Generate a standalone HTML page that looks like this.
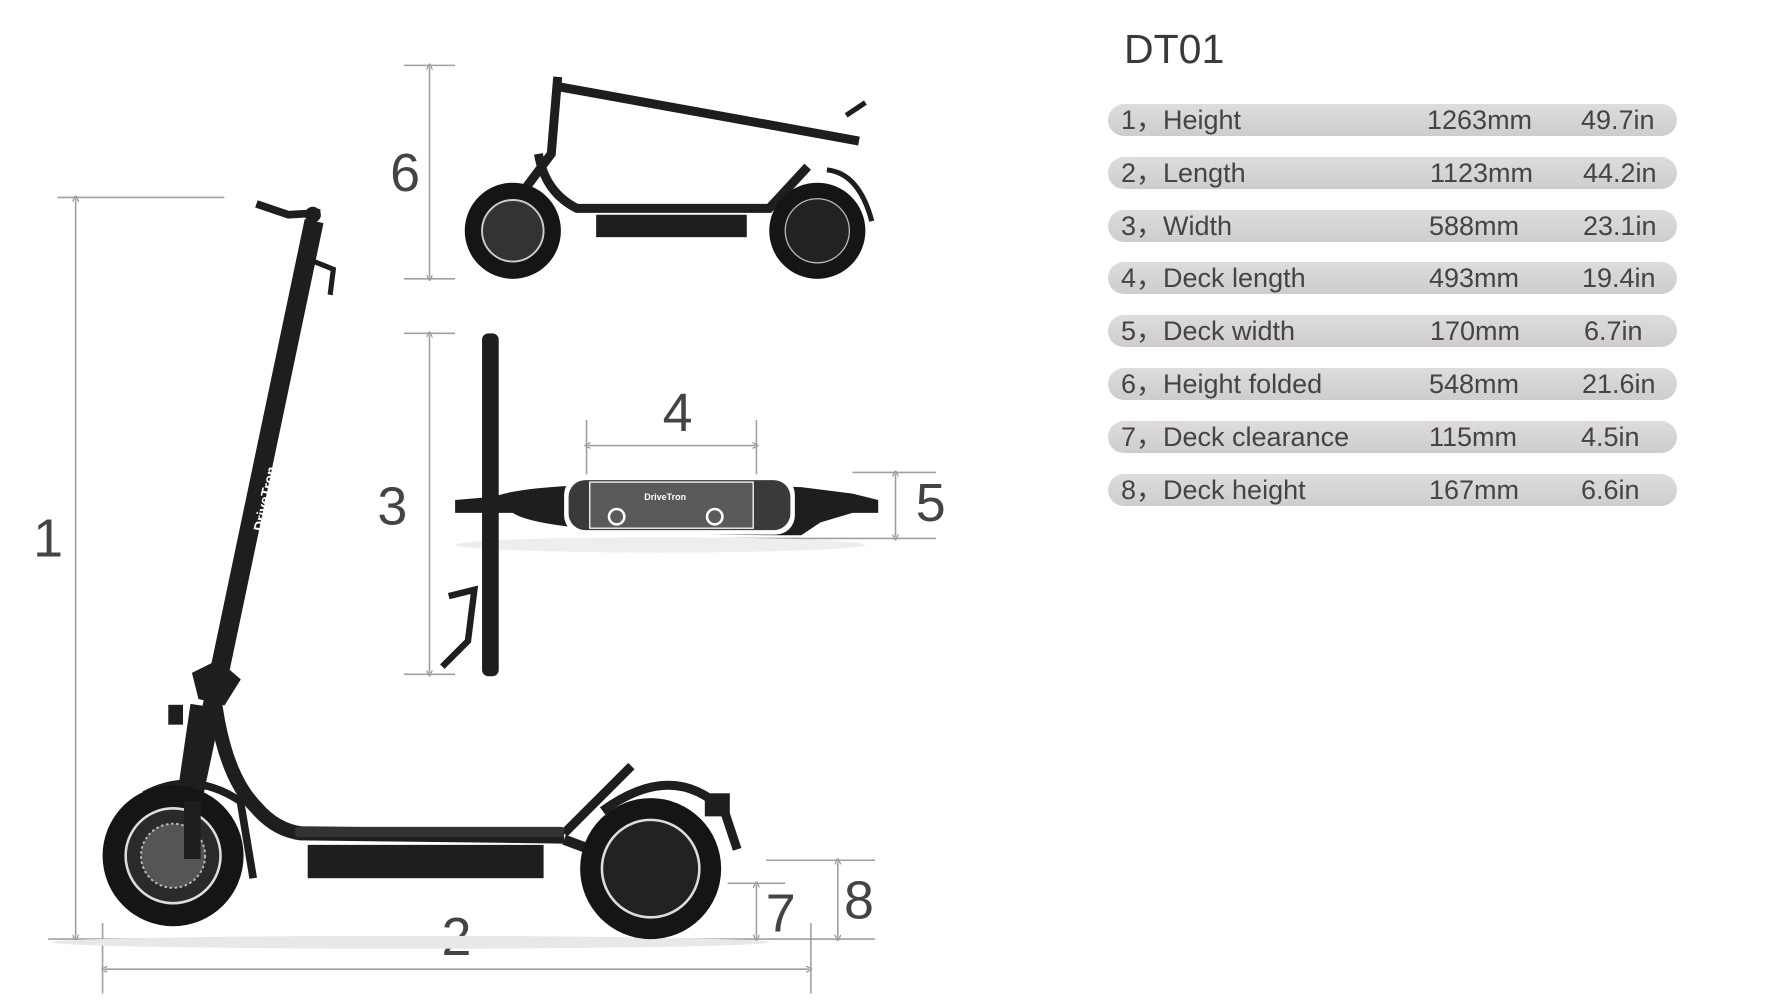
<!DOCTYPE html>
<html><head><meta charset="utf-8"><style>
html,body{margin:0;padding:0;background:#fff;}
body{width:1778px;height:1000px;position:relative;overflow:hidden;font-family:"Liberation Sans",sans-serif;}
svg.d{position:absolute;left:0;top:0;}
.title{position:absolute;left:1124px;top:26px;font-size:41px;color:#3a3a3a;}
.pill{position:absolute;left:1108px;width:569px;height:32px;border-radius:16px;background:linear-gradient(#dedcdc,#cfcccc);color:#444;font-size:27px;line-height:32px;}
.pill span{position:absolute;top:0;}
</style></head><body>
<svg class="d" width="1000" height="1000" viewBox="0 0 1560 1560">
<defs><marker id="a" markerWidth="10" markerHeight="10" refX="5" refY="5" orient="auto-start-reverse" markerUnits="userSpaceOnUse"><path d="M0,0 L10,5 L0,10" fill="none" stroke="#999" stroke-width="2"/></marker></defs>
<g stroke="#a0a0a0" stroke-width="2.5" fill="none">
<line x1="90" y1="308" x2="350" y2="308"/><line x1="118" y1="310" x2="118" y2="1463" marker-start="url(#a)" marker-end="url(#a)"/>
<line x1="75" y1="1465" x2="1365" y2="1465"/>
<line x1="160" y1="1440" x2="160" y2="1550"/><line x1="1265" y1="1440" x2="1265" y2="1550"/>
<line x1="163" y1="1512" x2="1262" y2="1512" marker-start="url(#a)" marker-end="url(#a)"/>
<line x1="630" y1="102" x2="710" y2="102"/><line x1="630" y1="435" x2="710" y2="435"/><line x1="670" y1="104" x2="670" y2="433" marker-start="url(#a)" marker-end="url(#a)"/>
<line x1="630" y1="520" x2="710" y2="520"/><line x1="630" y1="1052" x2="710" y2="1052"/><line x1="670" y1="522" x2="670" y2="1050" marker-start="url(#a)" marker-end="url(#a)"/>
<line x1="915" y1="655" x2="915" y2="740"/><line x1="1180" y1="655" x2="1180" y2="740"/><line x1="917" y1="695" x2="1178" y2="695" marker-start="url(#a)" marker-end="url(#a)"/>
<line x1="1330" y1="737" x2="1460" y2="737"/><line x1="1010" y1="840" x2="1460" y2="840"/><line x1="1397" y1="739" x2="1397" y2="838" marker-start="url(#a)" marker-end="url(#a)"/>
<line x1="1135" y1="1378" x2="1225" y2="1378"/><line x1="1180" y1="1380" x2="1180" y2="1463" marker-start="url(#a)" marker-end="url(#a)"/>
<line x1="1195" y1="1342" x2="1365" y2="1342"/><line x1="1307" y1="1344" x2="1307" y2="1463" marker-start="url(#a)" marker-end="url(#a)"/>
</g>
<g fill="#444" font-family="Liberation Sans, sans-serif" font-size="84" text-anchor="middle">
<text x="75" y="868">1</text><text x="712" y="1490">2</text><text x="612" y="818">3</text><text x="1057" y="672">4</text><text x="1452" y="813">5</text><text x="632" y="298">6</text><text x="1218" y="1453">7</text><text x="1340" y="1433">8</text>
</g>
<!-- main scooter -->
<ellipse cx="640" cy="1470" rx="560" ry="10" fill="#e8e8e8"/>
<g fill="#1e1e1e" stroke="#1e1e1e">
<path d="M300,1250 L490,345" stroke-width="30" fill="none"/>
<path d="M400,318 L450,335 L500,332" stroke-width="12" fill="none"/>
<circle cx="488" cy="335" r="12"/>
<path d="M470,400 L520,420 L515,460" stroke-width="8" fill="none"/>
<path d="M330,1040 Q340,1200 400,1260 Q430,1295 470,1300 L880,1305" stroke-width="22" fill="none"/>
<path d="M880,1310 L1015,1360" stroke-width="16" fill="none"/>
<path d="M880,1300 L985,1195" stroke-width="14" fill="none"/>
<rect x="480" y="1318" width="368" height="52" stroke="none"/>
<path d="M275,1340 L310,1100" stroke-width="26" fill="none"/>
<path d="M300,1050 L340,1030 L375,1060 L350,1100 L310,1090Z"/>
<rect x="263" y="1100" width="22" height="30"/>
<path d="M225,1240 Q300,1200 375,1250 L395,1370" stroke-width="12" fill="none"/>
<path d="M940,1265 Q1050,1185 1130,1265 L1150,1325" stroke-width="14" fill="none"/>
<rect x="1100" y="1238" width="38" height="35"/>
</g>
<rect x="460" y="1290" width="420" height="16" rx="4" fill="#333"/>
<circle cx="270" cy="1335" r="110" fill="#151515"/><circle cx="270" cy="1335" r="74" fill="#2a2a2a" stroke="#ddd" stroke-width="4"/><circle cx="270" cy="1335" r="50" fill="#555" stroke="#bbb" stroke-width="3" stroke-dasharray="4 4"/>
<circle cx="1015" cy="1355" r="110" fill="#151515"/><circle cx="1015" cy="1355" r="76" fill="#222" stroke="#ddd" stroke-width="4"/>
<path d="M300,1250 L300,1340" stroke="#1e1e1e" stroke-width="26"/>
<text x="0" y="0" transform="translate(410,830) rotate(-78)" fill="#fff" font-size="22" font-weight="bold" font-family="Liberation Sans, sans-serif">DriveTron</text>
<!-- folded -->
<g fill="#1e1e1e" stroke="#1e1e1e">
<path d="M870,135 L1340,220" stroke-width="14" fill="none"/>
<path d="M870,120 L860,240 L800,320" stroke-width="14" fill="none"/>
<path d="M840,240 Q850,300 900,325 L1200,325 L1260,260" stroke-width="14" fill="none"/>
<rect x="930" y="335" width="235" height="35" stroke="none"/>
<path d="M1290,265 Q1340,270 1360,345" stroke-width="8" fill="none"/>
<path d="M1320,180 L1350,160" stroke-width="8" fill="none"/>
</g>
<circle cx="800" cy="360" r="75" fill="#151515"/><circle cx="800" cy="360" r="48" fill="#333" stroke="#ccc" stroke-width="3"/>
<circle cx="1275" cy="360" r="75" fill="#151515"/><circle cx="1275" cy="360" r="50" fill="#222" stroke="#bbb" stroke-width="2"/>
<text transform="translate(1010,182) rotate(10)" fill="#fff" font-size="16" font-weight="bold" font-family="Liberation Sans, sans-serif">DriveTron</text>
<!-- top view -->
<ellipse cx="1030" cy="850" rx="320" ry="12" fill="#eee"/>
<rect x="752" y="520" width="26" height="535" rx="10" fill="#1e1e1e"/>
<path d="M710,780 L770,775 Q850,745 1250,760 L1330,770 L1370,780 L1370,800 L1330,800 L1280,815 L1250,835 Q850,835 800,800 L710,800Z" fill="#1e1e1e"/>
<rect x="880" y="742" width="360" height="92" rx="30" fill="#fff"/>
<rect x="887" y="749" width="346" height="78" rx="26" fill="#3a3a3a"/>
<rect x="920" y="752" width="255" height="72" fill="#5a5a5a" stroke="#fff" stroke-width="2"/>
<circle cx="962" cy="806" r="12" fill="none" stroke="#fff" stroke-width="4"/><circle cx="1115" cy="806" r="12" fill="none" stroke="#fff" stroke-width="4"/>
<text x="1005" y="780" fill="#fff" font-size="14" font-weight="bold" font-family="Liberation Sans, sans-serif">DriveTron</text>
<path d="M700,930 L740,920 L730,1000 L690,1040" stroke="#1e1e1e" stroke-width="10" fill="none"/>
</svg>
<div class="title">DT01</div>
<div class="pill" style="top:104px"><span style="left:13px">1，Height</span><span style="left:319px">1263mm</span><span style="left:473px">49.7in</span></div>
<div class="pill" style="top:157px"><span style="left:13px">2，Length</span><span style="left:322px">1123mm</span><span style="left:475px">44.2in</span></div>
<div class="pill" style="top:210px"><span style="left:13px">3，Width</span><span style="left:321px">588mm</span><span style="left:475px">23.1in</span></div>
<div class="pill" style="top:262px"><span style="left:13px">4，Deck length</span><span style="left:321px">493mm</span><span style="left:474px">19.4in</span></div>
<div class="pill" style="top:315px"><span style="left:13px">5，Deck width</span><span style="left:322px">170mm</span><span style="left:476px">6.7in</span></div>
<div class="pill" style="top:368px"><span style="left:13px">6，Height folded</span><span style="left:321px">548mm</span><span style="left:474px">21.6in</span></div>
<div class="pill" style="top:421px"><span style="left:13px">7，Deck clearance</span><span style="left:321px">115mm</span><span style="left:473px">4.5in</span></div>
<div class="pill" style="top:474px"><span style="left:13px">8，Deck height</span><span style="left:321px">167mm</span><span style="left:473px">6.6in</span></div>
</body></html>
